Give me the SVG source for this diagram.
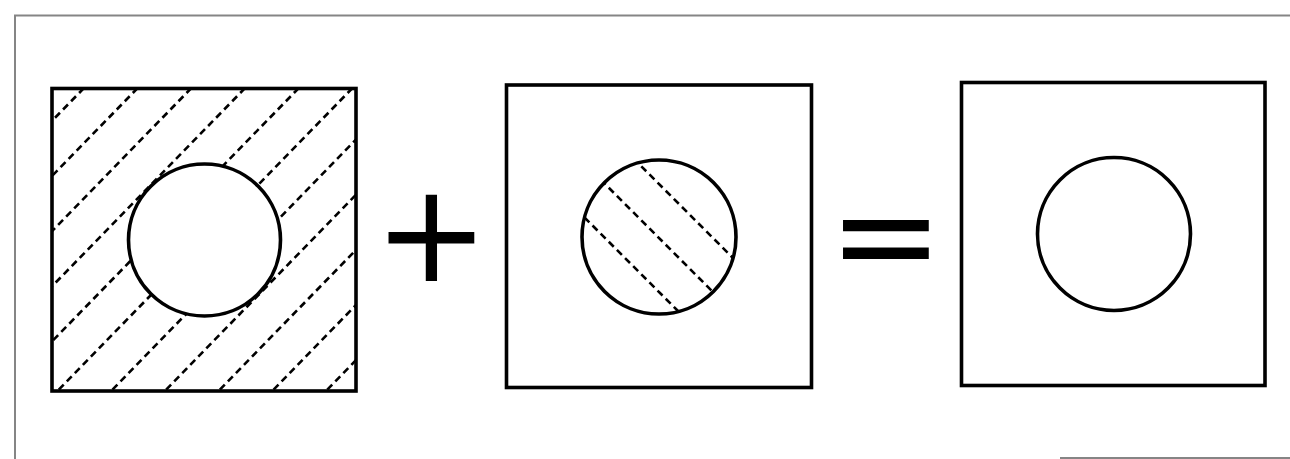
<svg xmlns="http://www.w3.org/2000/svg" width="1290" height="459" viewBox="0 0 1290 459">
  <style>
    .frame { fill: none; stroke: #858585; stroke-width: 2; }
    .box { fill: none; stroke: #000; stroke-width: 3.6; }
    .disc { fill: #fff; stroke: #000; stroke-width: 3.6; }
    .hole { fill: none; stroke: #000; stroke-width: 3.6; }
    .hatch { stroke: #000; stroke-width: 2.6; stroke-dasharray: 7 4.5; fill: none; }
    .op { font-family: "DejaVu Sans", sans-serif; font-size: 137px; fill: #000; text-anchor: middle; }
  </style>
  <defs>
    <clipPath id="clipLeft">
      <rect x="52" y="89" width="303" height="302"/>
    </clipPath>
    <clipPath id="clipMid">
      <circle cx="659" cy="237" r="77"/>
    </clipPath>
  </defs>
  <rect width="1290" height="459" fill="#fff"/>

  <g id="frame">
    <polyline class="frame" points="15,459 15,15.5 1290,15.5"/>
    <line class="frame" x1="1060" y1="458" x2="1290" y2="458"/>
  </g>

  <g id="left-square">
    <g clip-path="url(#clipLeft)">
      <line class="hatch" x1="84" y1="88" x2="-212" y2="392"/>
      <line class="hatch" x1="137.7" y1="88" x2="-158.3" y2="392"/>
      <line class="hatch" x1="191.4" y1="88" x2="-104.6" y2="392"/>
      <line class="hatch" x1="245.1" y1="88" x2="-50.9" y2="392"/>
      <line class="hatch" x1="298.8" y1="88" x2="2.8" y2="392"/>
      <line class="hatch" x1="352.5" y1="88" x2="56.5" y2="392"/>
      <line class="hatch" x1="406.2" y1="88" x2="110.2" y2="392"/>
      <line class="hatch" x1="459.9" y1="88" x2="163.9" y2="392"/>
      <line class="hatch" x1="513.6" y1="88" x2="217.6" y2="392"/>
      <line class="hatch" x1="567.3" y1="88" x2="271.3" y2="392"/>
      <line class="hatch" x1="621" y1="88" x2="325" y2="392"/>
    </g>
    <rect class="box" x="52" y="88.5" width="304" height="302.5"/>
    <circle class="disc" cx="204.5" cy="240" r="76"/>
  </g>

  <g id="plus">
    <text class="op" x="431.5" y="280.6">+</text>
  </g>

  <g id="middle-square">
    <rect class="box" x="506.5" y="85" width="305" height="302.5"/>
    <g clip-path="url(#clipMid)">
      <line class="hatch" x1="560" y1="85" x2="780" y2="305"/>
      <line class="hatch" x1="560" y1="139" x2="780" y2="359"/>
      <line class="hatch" x1="560" y1="193" x2="780" y2="413"/>
    </g>
    <circle class="hole" cx="659" cy="237" r="77"/>
  </g>

  <g id="equals">
    <text class="op" x="886" y="282.5">=</text>
  </g>

  <g id="right-square">
    <rect class="box" x="961.5" y="82.5" width="303.5" height="303"/>
    <circle class="hole" cx="1114" cy="234" r="76.5"/>
  </g>
</svg>
